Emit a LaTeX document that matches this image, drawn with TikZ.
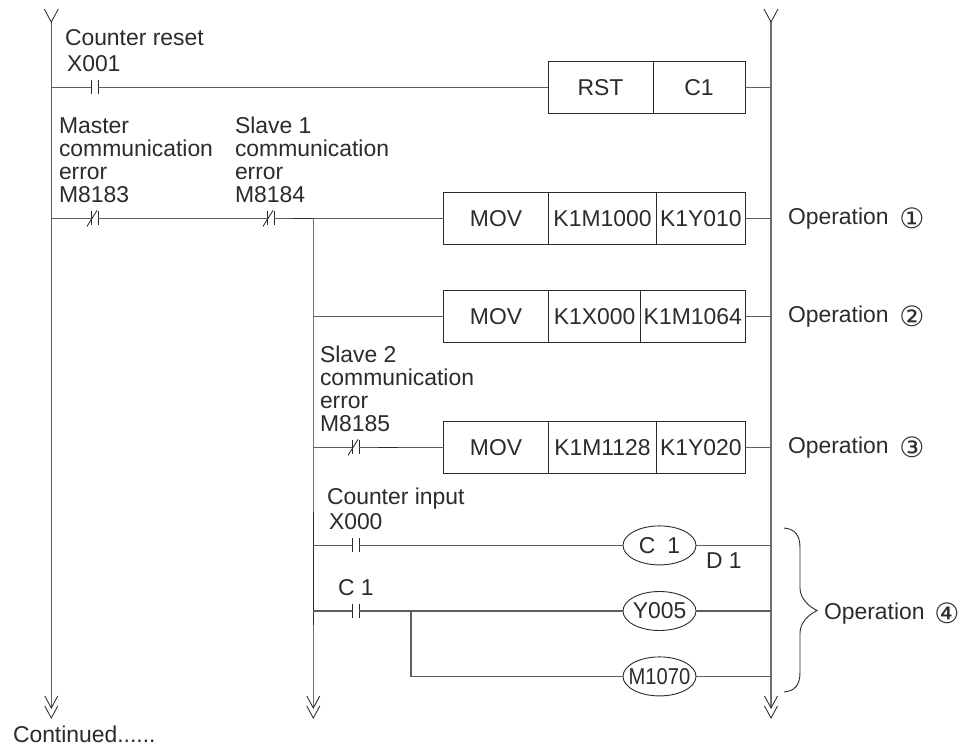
\documentclass[tikz,border=0pt]{standalone}
\usepackage{fontspec}
\usepackage{graphicx}
\setmainfont{Liberation Sans}
\newfontfamily\symfont{DejaVu Sans}
\usetikzlibrary{shapes.geometric,calc}
\definecolor{ink}{HTML}{2B2B2B}
\definecolor{rail}{HTML}{707070}
\definecolor{rung}{HTML}{5E5E5E}
\newcommand{\coiltext}[1]{\makebox[30pt][c]{#1}}
\tikzset{
  every node/.style={text=ink},
  lbl/.style={anchor=base west,inner sep=0pt,outer sep=0pt,align=left,font=\fontsize{22.9}{23}\selectfont},
  opnum/.style={inner sep=0pt,outer sep=0pt,font=\symfont\fontsize{28}{28}\selectfont},
  railline/.style={draw=rail,line width=1.5pt},
  wire/.style={draw=rung,line width=1.05pt},
  darkwire/.style={draw=ink,line width=1.3pt},
  fork/.style={draw=ink,line width=0.85pt},
  contact/.style={minimum width=7pt,minimum height=14pt,inner sep=0pt,outer sep=0pt},
  cell/.style={draw=ink,line width=1pt,rectangle,inner sep=0pt,outer sep=0pt,minimum height=52pt,font=\fontsize{22.9}{23}\selectfont},
  coil/.style={draw=ink,line width=0.9pt,ellipse,inner sep=0pt,outer sep=0pt,minimum width=73pt,minimum height=39pt,font=\fontsize{22.9}{23}\selectfont}
}
\begin{document}
\begin{tikzpicture}[x=1pt,y=-1pt]
\useasboundingbox (0,0) rectangle (960,747);
% rails
\coordinate (Ltop) at (51.3,22);   \coordinate (Lbot) at (51.3,708);
\coordinate (Mtop) at (313.3,218.4); \coordinate (Mbot) at (313.3,708);
\coordinate (Rtop) at (771,22);  \coordinate (Rbot) at (771,708);
\draw[draw=rung,line width=1pt] (Ltop) -- (Lbot);
\draw[railline] (Mtop) -- (Mbot);
\draw[darkwire,line width=1.5pt] (313.3,512) -- (313.3,625);
\draw[railline] (Rtop) -- (Rbot);
% forks and double chevrons
\foreach \p in {L,R}
  \draw[fork] ($(\p top)+(-7,-13)$) -- (\p top) -- ($(\p top)+(7,-13)$);
\foreach \p in {L,M,R}{
  \draw[fork] ($(\p bot)+(-6.5,-12)$) -- (\p bot) -- ($(\p bot)+(6.5,-12)$);
  \draw[fork] ($(\p bot)+(-6.5,-2)$) -- ($(\p bot)+(0,10)$) -- ($(\p bot)+(6.5,-2)$);
}
% contacts
\node[contact] (cX1) at (94.5,87.4) {};
\node[contact] (cM3) at (94.5,218.4) {};
\node[contact] (cM4) at (270.5,218.4) {};
\node[contact] (cM5) at (355.5,447.4) {};
\node[contact] (cX0) at (355.5,545.4) {};
\node[contact] (cC1) at (355.5,611) {};
\foreach \c in {cX1,cX0,cC1}{
  \draw[fork,line width=1pt] (\c.north west) -- (\c.south west);
  \draw[fork,line width=1pt] (\c.north east) -- (\c.south east);
}
\foreach \c in {cM3,cM4,cM5}{
  \draw[fork,line width=1pt] (\c.north west) -- (\c.south west);
  \draw[fork,line width=1pt] (\c.north east) -- (\c.south east);
  \draw[fork] ($(\c.south west)+(-4,1)$) -- ($(\c.north east)+(-1,-1)$);
}
% instruction boxes
\node[cell,minimum width=105pt] (rst) at (600.5,87.4) {RST};
\node[cell,minimum width=92pt,anchor=west] (c1b) at (rst.east) {C1};
\node[cell,minimum width=105pt] (mov1) at (496,218.4) {MOV};
\node[cell,minimum width=108pt,anchor=west] (a1) at (mov1.east) {K1M1000};
\node[cell,minimum width=88.5pt,anchor=west] (b1) at (a1.east) {K1Y010};
\node[cell,minimum width=105pt] (mov2) at (496,316.4) {MOV};
\node[cell,minimum width=92pt,anchor=west] (a2) at (mov2.east) {K1X000};
\node[cell,minimum width=104.5pt,anchor=west] (b2) at (a2.east) {K1M1064};
\node[cell,minimum width=105pt] (mov3) at (496,447.4) {MOV};
\node[cell,minimum width=108pt,anchor=west] (a3) at (mov3.east) {K1M1128};
\node[cell,minimum width=88.5pt,anchor=west] (b3) at (a3.east) {K1Y020};
% coils
\node[coil] (k1) at (659.5,545.4) {\coiltext{C\hspace{12pt}1}};
\node[coil] (k2) at (659.5,611) {\coiltext{Y005}};
\node[coil] (k3) at (659.5,676.4) {\coiltext{\scalebox{.88}[1]{M1070}}};
% rungs
\draw[wire] (Ltop |- cX1) -- (cX1.west);
\draw[wire] (cX1.east) -- (rst.west);
\draw[wire] (c1b.east) -- (Rtop |- c1b);
\draw[wire] (Ltop |- cM3) -- (cM3.west);
\draw[wire] (cM3.east) -- (cM4.west);
\draw[wire] (cM4.east) -- (mov1.west);
\draw[darkwire] (293,218.4) -- (Mtop);
\draw[wire] (b1.east) -- (Rtop |- b1);
\draw[wire] (Mtop |- mov2) -- (mov2.west);
\draw[wire] (b2.east) -- (Rtop |- b2);
\draw[wire] (Mtop |- cM5) -- (cM5.west);
\draw[wire] (cM5.east) -- (mov3.west);
\draw[darkwire,line width=1.5pt] (378,447.4) -- (398,447.4);
\draw[wire] (b3.east) -- (Rtop |- b3);
\draw[wire] (Mtop |- cX0) -- (cX0.west);
\draw[wire] (cX0.east) -- (k1.west);
\draw[wire] (k1.east) -- (Rtop |- k1);
\draw[wire] (Mtop |- cC1) -- (cC1.west);
\draw[wire] (cC1.east) -- (k2.west);
\draw[wire] (k2.east) -- (Rtop |- k2);
\coordinate (tap) at (411,611);
\draw[wire] (tap) -- (tap |- k3) -- (k3.west);
\draw[wire] (k3.east) -- (Rtop |- k3);
% labels
\node[lbl] (l1) at (65,45) {Counter reset};
\node[lbl] (l2) at (67,71) {X001};
\node[lbl] (l3) at (59,202) {Master\\communication\\error\\M8183};
\node[lbl] (l4) at (235,202) {Slave 1\\communication\\error\\M8184};
\node[lbl] (l5) at (320,431) {Slave 2\\communication\\error\\M8185};
\node[lbl] (l6) at (327,504) {Counter input};
\node[lbl] (l7) at (329,529) {X000};
\node[lbl] (l8) at (338,595) {C 1};
\node[lbl] (l9) at (706,568) {D 1};
\node[lbl] (l10) at (13,742) {Continued......};
\node[lbl] (o1) at (788,224) {Operation};
\node[lbl] (o2) at (788,322) {Operation};
\node[lbl] (o3) at (788,453) {Operation};
\node[lbl] (o4) at (824,619) {Operation};
\node[opnum] (n1) at (912,218) {①};
\node[opnum] (n2) at (912,316) {②};
\node[opnum] (n3) at (912,447) {③};
\node[opnum] (n4) at (947,613) {④};
% brace
\draw[draw=ink,line width=0.9pt] (784,528) .. controls (795,529) and (800,535) .. (800,548)
  -- (800,588) .. controls (800,598) and (808,606) .. (817,610.5)
  .. controls (808,615) and (800,623) .. (800,633)
  -- (800,672) .. controls (800,685) and (795,691) .. (784,692);
\end{tikzpicture}
\end{document}
